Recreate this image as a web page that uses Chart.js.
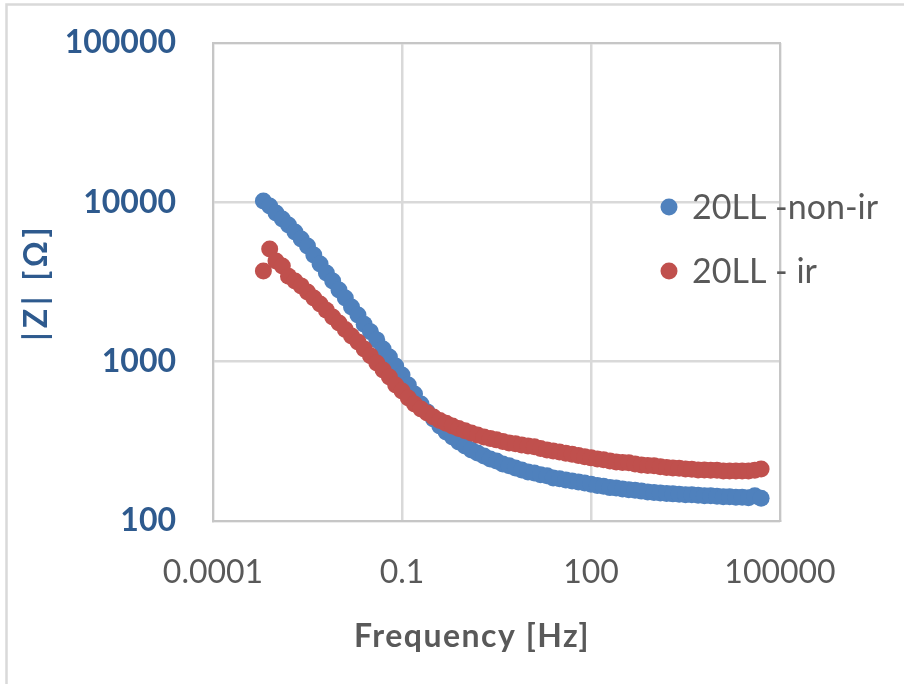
<!DOCTYPE html>
<html><head><meta charset="utf-8">
<script src="https://cdn.jsdelivr.net/npm/chart.js@4.4.1/dist/chart.umd.min.js"></script>
<style>html,body{margin:0;padding:0;background:#fff;}canvas{display:block;}</style>
</head><body>
<canvas id="c" width="904" height="684"></canvas>
<script>
const freqHz = [0.000631, 0.000794, 0.001, 0.00126, 0.00158, 0.002, 0.00251, 0.00316, 0.00398, 0.00501, 0.00631, 0.00794, 0.01,
  0.0126, 0.0158, 0.02, 0.0251, 0.0316, 0.0398, 0.0501, 0.0631, 0.0794, 0.1,
  0.126, 0.158, 0.2, 0.251, 0.316, 0.398, 0.501, 0.631, 0.794, 1,
  1.26, 1.58, 2, 2.51, 3.16, 3.98, 5.01, 6.31, 7.94, 10,
  12.6, 15.8, 20, 25.1, 31.6, 39.8, 50.1, 63.1, 79.4, 100,
  126, 158, 200, 251, 316, 398, 501, 631, 794, 1000,
  1259, 1585, 1995, 2512, 3162, 3981, 5012, 6310, 7943, 10000,
  12589, 15849, 19953, 25119, 31623, 39811, 50119];
const zNonIr = [10200, 9480, 8570, 7860, 7200, 6510, 5890, 5320, 4670, 4100, 3600, 3210, 2820,
  2510, 2200, 1960, 1720, 1540, 1370, 1200, 1070, 940, 825,
  714, 627, 543, 484, 437, 395, 362, 337, 313, 296,
  279, 267, 256, 245, 238, 228, 222, 215, 209, 203,
  200, 195, 192, 186, 184, 181, 178, 176, 173, 170,
  167, 165, 162, 161, 159, 157, 156, 154, 152, 151,
  150, 149, 148, 147, 146, 146, 145, 144, 144, 143,
  142, 142, 141, 141, 140, 144, 139];
const zIr = [3710, 5090, 4280, 3990, 3440, 3210, 2990, 2740, 2510, 2300, 2100, 1910, 1750,
  1590, 1450, 1330, 1200, 1090, 981, 887, 802, 714, 655,
  592, 543, 505, 477, 450, 428, 410, 395, 381, 368,
  357, 347, 337, 330, 323, 316, 309, 305, 300, 296,
  292, 285, 279, 275, 271, 266, 262, 258, 253, 249,
  245, 242, 238, 235, 233, 232, 228, 225, 223, 222,
  219, 217, 215, 214, 212, 211, 209, 209, 208, 208,
  206, 206, 206, 206, 206, 208, 212];
const seriesLabels = ['20LL -non-ir', '20LL - ir'];
const seriesColors = ['#4F81BD', '#C0504D'];
const xTickValues = [0.0001, 0.1, 100, 100000];
const xTickLabels = ['0.0001', '0.1', '100', '100000'];
const yTickValues = [100, 1000, 10000, 100000];
const yTickLabels = ['100', '1000', '10000', '100000'];
const xTitle = 'Frequency [Hz]';
const yTitle = '|Z| [\u03A9]';

const FONT = 'Lato, "Open Sans", sans-serif';
const GRAY = '#595959';
const BLUE_TXT = '#2E5A8E';

const toPts = (ys) => freqHz.map((f, i) => ({x: f, y: ys[i]}));

const decor = {
  id: 'decor',
  beforeDraw(chart) {
    const ctx = chart.ctx;
    ctx.save();
    ctx.fillStyle = '#fff';
    ctx.fillRect(0, 0, chart.width, chart.height);
    ctx.strokeStyle = '#D9D9D9';
    ctx.lineWidth = 2.5;
    ctx.beginPath();
    ctx.moveTo(6.5, chart.height);
    ctx.lineTo(6.5, 4.5);
    ctx.lineTo(chart.width, 4.5);
    ctx.stroke();
    ctx.restore();
  },
  beforeDatasetsDraw(chart) {
    const {ctx, chartArea: a} = chart;
    ctx.save();
    ctx.strokeStyle = '#C6C6C6';
    ctx.lineWidth = 2;
    ctx.strokeRect(a.left, a.top, a.right - a.left, a.bottom - a.top);
    ctx.restore();
  },
  afterDraw(chart) {
    const {ctx, chartArea: a} = chart;
    ctx.save();
    // x title
    ctx.fillStyle = GRAY;
    ctx.font = 'bold 32px ' + FONT;
    ctx.letterSpacing = '1.5px';
    ctx.textAlign = 'center';
    ctx.textBaseline = 'alphabetic';
    ctx.fillText(xTitle, a.left + 259, a.bottom + 126);
    // y title
    ctx.save();
    ctx.translate(37, (a.top + a.bottom) / 2);
    ctx.rotate(-Math.PI / 2);
    ctx.fillStyle = BLUE_TXT;
    ctx.font = 'bold 32px ' + FONT;
    ctx.letterSpacing = '4px';
    ctx.textAlign = 'center';
    ctx.textBaseline = 'middle';
    ctx.fillText(yTitle, 0, 0);
    ctx.restore();
    // legend
    ctx.letterSpacing = '0px';
    chart.data.datasets.forEach((ds, i) => {
      const cx = a.right - 111;
      const cy = a.top + 164 + i * 64;
      ctx.fillStyle = ds.backgroundColor;
      ctx.beginPath();
      ctx.arc(cx, cy, 8.5, 0, Math.PI * 2);
      ctx.fill();
      ctx.fillStyle = GRAY;
      ctx.font = '34px ' + FONT;
      ctx.textAlign = 'left';
      ctx.textBaseline = 'alphabetic';
      ctx.fillText(ds.label, cx + 23, cy + 12);
    });
    ctx.restore();
  }
};

new Chart(document.getElementById('c'), {
  type: 'scatter',
  data: {
    datasets: [
      {label: seriesLabels[0], data: toPts(zNonIr), backgroundColor: seriesColors[0], borderColor: seriesColors[0], order: 1},
      {label: seriesLabels[1], data: toPts(zIr), backgroundColor: seriesColors[1], borderColor: seriesColors[1], order: 0}
    ]
  },
  options: {
    responsive: false,
    animation: false,
    devicePixelRatio: 1,
    layout: {padding: {top: 43, right: 124, left: 0, bottom: 0}},
    elements: {point: {radius: 8.5, hoverRadius: 8.5, borderWidth: 0, pointStyle: 'circle'}},
    plugins: {legend: {display: false}, tooltip: {enabled: false}},
    scales: {
      x: {
        type: 'logarithmic', min: 0.0001, max: 100000,
        afterBuildTicks: (s) => { s.ticks = xTickValues.map(v => ({value: v})); },
        afterFit: (s) => { s.height = 163; s.paddingLeft = 0; s.paddingRight = 0; s.paddingTop = 0; s.paddingBottom = 0; },
        ticks: {autoSkip: false, maxRotation: 0, padding: 32, color: GRAY, font: {family: FONT, size: 32},
          callback: (v, i) => xTickLabels[i]},
        grid: {color: '#D9D9D9', lineWidth: 2.5, drawTicks: false},
        border: {display: true, color: '#C6C6C6', width: 2}
      },
      y: {
        type: 'logarithmic', min: 100, max: 100000,
        afterBuildTicks: (s) => { s.ticks = yTickValues.map(v => ({value: v})); },
        afterFit: (s) => { s.width = 213; s.paddingLeft = 0; s.paddingRight = 0; s.paddingTop = 0; s.paddingBottom = 0; },
        ticks: {autoSkip: false, padding: 37, color: BLUE_TXT, font: {family: FONT, size: 32, weight: 'bold'},
          callback: (v, i) => yTickLabels[i]},
        grid: {color: '#D9D9D9', lineWidth: 2.5, drawTicks: false},
        border: {display: true, color: '#C6C6C6', width: 2}
      }
    }
  },
  plugins: [decor]
});
</script>
</body></html>
